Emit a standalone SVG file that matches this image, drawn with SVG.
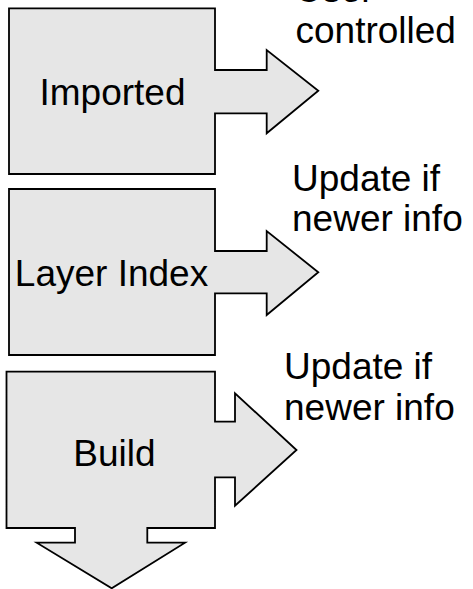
<svg xmlns="http://www.w3.org/2000/svg" width="473" height="589" viewBox="0 0 473 589">
<style>
.shape{fill:#e6e6e6;stroke:#000;stroke-width:1.8;stroke-linejoin:miter}
.t{font-family:"Liberation Sans",Arial,sans-serif;font-size:37px;fill:#000}
.c{text-anchor:middle}
</style>
<rect width="473" height="589" fill="#fff"/>
<g id="imported">
<polygon class="shape" points="9,8.3 215,8.3 215,70 266.7,70 266.7,50 318.3,90.7 266.7,133.3 266.7,113.3 215,113.3 215,174 9,174"/>
<text class="t c" x="112.5" y="105">Imported</text>
</g>
<g id="layer-index">
<polygon class="shape" points="9,189 215,189 215,251 266.7,251 266.7,231 318.3,272.3 266.7,315 266.7,293.3 215,293.3 215,355 9,355"/>
<text class="t c" x="111.5" y="286">Layer Index</text>
</g>
<g id="build">
<polygon class="shape" points="6.5,371.7 215,371.7 215,421.7 235,421.7 235,393.3 296.5,450 235,505.7 235,477.3 215,477.3 215,528 147.3,528 147.3,542.7 185,542.7 111.7,588.3 36.7,542.7 75,542.7 75,528 6.5,528"/>
<text class="t c" x="114.5" y="466">Build</text>
</g>
<g id="connectors"></g>
<g id="labels">
<text class="t" x="295.5" y="2">User</text>
<text class="t" x="295.5" y="43">controlled</text>
<text class="t" x="292" y="191">Update if</text>
<text class="t" x="292" y="231">newer info</text>
<text class="t" x="284" y="379">Update if</text>
<text class="t" x="284" y="420">newer info</text>
</g>
</svg>
